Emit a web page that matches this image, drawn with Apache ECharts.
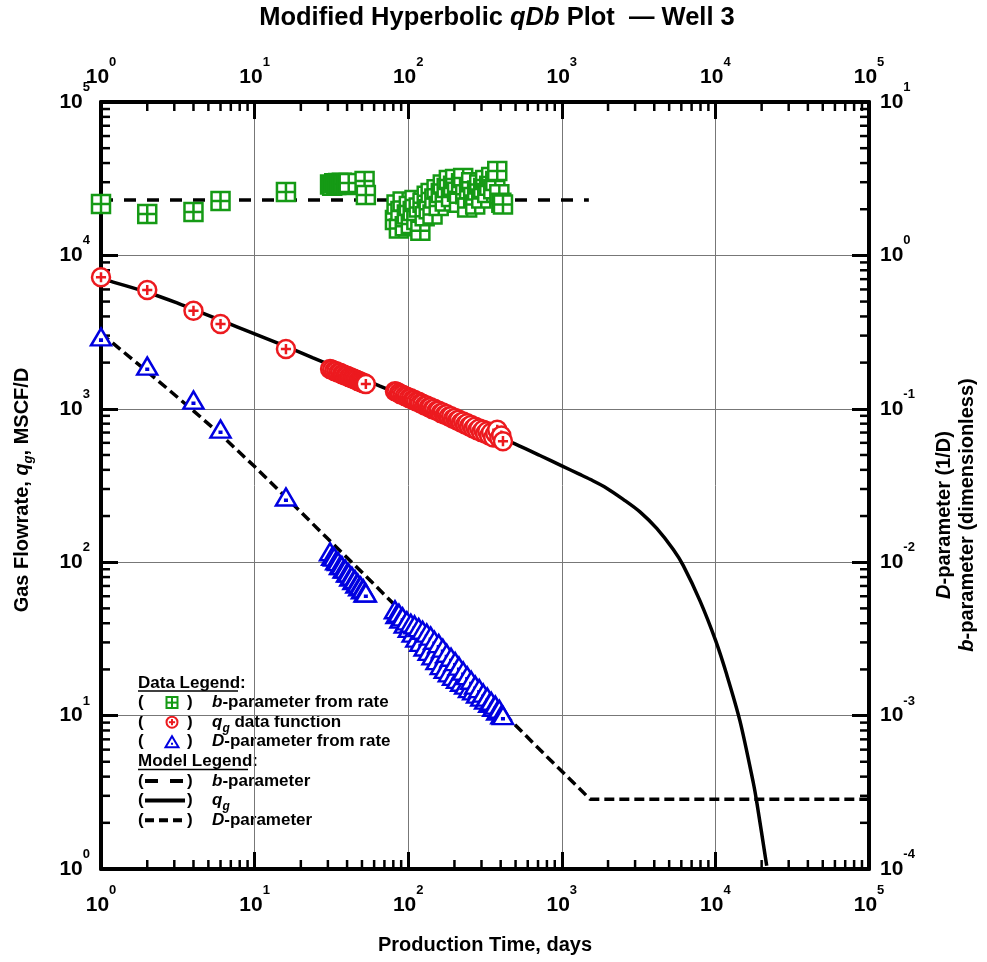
<!DOCTYPE html>
<html><head><meta charset="utf-8">
<script src="https://cdn.jsdelivr.net/npm/echarts@6/dist/echarts.min.js"></script>
<style>html,body{margin:0;padding:0;background:#fff}#c{width:987px;height:962px}</style>
</head><body><div id="c"></div>
<script>
const FONT = '"Liberation Sans", Arial, Helvetica, sans-serif';

// ---- field data (production time, days) ----
const tData = [1,2,4,6,16,
  31,32,33,34,35,36,37,38,39,40,41,42,43,44,45,46,47,48,49,50,51,52,53,
  82,84,87,89,92,95,98,101,104,107,110,113,117,120,124,128,132,136,140,144,
  148,153,158,163,168,173,178,184,190,196,202,208,214,221,228,235,242,249,257,265,
  273,281,290,299,308,317,327,337,347,358,369,380,392,404,414];
// gas rate data, MSCF/D
const qData = [7200,5950,4350,3570,2450,
  1820,1800,1765,1755,1720,1715,1680,1675,1645,1640,1610,1605,1580,1575,1550,1545,1520,1515,1495,1490,1470,1465,1450,
  1300,1290,1270,1245,1235,1210,1200,1175,1170,1145,1140,1115,1110,1085,1080,1050,1050,1025,1025,995,
  1000,970,970,940,945,915,920,890,895,860,870,840,850,815,825,790,805,770,785,745,
  765,725,745,705,730,690,715,670,700,650,690,730,640,670,615];
// D-parameter from rate, 1/D
const dData = [0.294,0.190,0.114,0.0738,0.0266,
  0.0117,0.0109,0.0108,0.0102,0.0101,0.0095,0.0095,0.0090,0.0090,0.0085,0.0085,0.0080,0.0081,0.0076,0.0077,0.0072,0.0073,0.0069,0.0070,0.0066,0.0067,0.0063,0.0063,
  0.00490,0.00455,0.00465,0.00425,0.00440,0.00395,0.00415,0.00370,0.00400,0.00345,
  0.00390,0.00320,0.00375,0.00300,0.00360,0.00280,0.00345,0.00262,0.00330,0.00245,
  0.00310,0.00228,0.00295,0.00212,0.00275,0.00200,0.00255,0.00190,0.00240,0.00180,
  0.00225,0.00172,0.00210,0.00165,0.00195,0.00158,0.00182,0.00150,0.00170,0.00145,
  0.00158,0.00138,0.00150,0.00132,0.00140,0.00126,0.00132,0.00120,0.00124,0.00113,
  0.00117,0.00107,0.00110,0.00101,0.00100];
// b-parameter from rate, dimensionless
const bData = [2.16,1.86,1.92,2.26,2.59,
  2.90,2.85,2.95,2.88,2.97,2.90,2.98,2.92,2.95,2.88,2.96,null,null,null,null,null,null,null,null,null,null,3.05,2.48,
  1.70,2.15,1.50,1.95,2.25,1.55,1.85,2.10,1.60,1.95,
  2.30,1.70,2.05,1.45,2.20,1.80,2.45,2.00,2.55,1.85,
  2.35,2.70,2.10,2.55,2.90,2.25,2.75,3.10,2.40,2.85,
  3.15,2.60,2.20,2.95,3.20,2.50,2.05,2.70,3.00,2.40,
  2.15,2.65,2.90,2.35,2.75,3.10,2.55,2.85,3.25,2.70,
  3.05,3.55,2.50,2.20,2.15];

// ---- model curves ----
const qModelT = [1,1.2,2,3.27,4,6,10,16.3,24,40,65.5,100,178,300,500,721,1000,1300,1527,1960,2512,3228,4150,5320,6180,7940,10040,11850,14460,17650,18570,21580];
const qModelQ = [7000,6700,5750,4820,4450,3780,3080,2530,2150,1735,1407,1180,928,738,588,496,425,375,347,304,257,213,166,121,95,56,30.8,18.5,9.2,3.65,2.75,1.05];
const dModelT = [1,2,4,6,10,16.3,30,50,100,200,400,800,1530,100000];
const dModelD = [0.31,0.175,0.097,0.068,0.042,0.026,0.0142,0.0086,0.0043,0.00216,0.00108,0.00054,0.000285,0.000285];
const bModelT = [1,1500];
const bModelB = [2.3,2.3];

// ---- axes ----
const xExps = [0,1,2,3,4,5];
const leftExps = [0,1,2,3,4,5];
const rightExps = [-4,-3,-2,-1,0,1];
const minorMult = [2,3,4,5,6,7,8,9];
const minorDecades = [1,10,100,1000,10000];
const minorVals = [];
for (const d of minorDecades) for (const m of minorMult) minorVals.push(m * d);

const pairs = (xs, ys) => xs.map((x, i) => [x, ys[i]]).filter(p => p[1] != null);

const labelRich = {
  b: {fontSize: 21, fontWeight: 'bold', fontFamily: FONT, color: '#000', lineHeight: 42},
  s: {fontSize: 13, fontWeight: 'bold', fontFamily: FONT, color: '#000', lineHeight: 12, verticalAlign: 'top'}
};
const supFmt = v => '{b|10}{s|' + Math.round(Math.log10(v)) + '}';

function majorAxis(pos, min, max, split, margin) {
  return {
    type: 'log', logBase: 10, min, max, position: pos,
    axisLine: {show: true, onZero: false, lineStyle: {color: '#000', width: 4}},
    axisTick: {show: true, inside: true, length: 17, lineStyle: {color: '#000', width: 3}},
    minorTick: {show: false},
    splitLine: {show: split, lineStyle: {color: '#777', width: 1}},
    axisLabel: {show: true, margin, formatter: supFmt, rich: labelRich, color: '#000'},
    axisPointer: {show: false}
  };
}
const MINOR_LEN = 9;
// minor tick marks placed through the axes' own log scales
function minorTickSeries(dir) {
  return {
    type: 'custom', xAxisIndex: 0, yAxisIndex: 0, clip: false, silent: true, z: 1,
    data: minorVals.map(v => dir === 'x' ? [v, 1] : [1, v]),
    renderItem: function (params, api) {
      const v = dir === 'x' ? api.value(0) : api.value(1);
      const st = {stroke: '#000', lineWidth: 2.5};
      if (dir === 'x') {
        const x = api.coord([v, 1])[0];
        const yb = api.coord([v, 1])[1], yt = api.coord([v, 1e5])[1];
        return {type: 'group', children: [
          {type: 'line', shape: {x1: x, y1: yb, x2: x, y2: yb - MINOR_LEN}, style: st},
          {type: 'line', shape: {x1: x, y1: yt, x2: x, y2: yt + MINOR_LEN}, style: st}]};
      }
      const y = api.coord([1, v])[1];
      const xl = api.coord([1, v])[0], xr = api.coord([1e5, v])[0];
      return {type: 'group', children: [
        {type: 'line', shape: {x1: xl, y1: y, x2: xl + MINOR_LEN, y2: y}, style: st},
        {type: 'line', shape: {x1: xr, y1: y, x2: xr - MINOR_LEN, y2: y}, style: st}]};
    }
  };
}

const SQ = 'path://M0,0L16,0L16,16L0,16Z M8,0L8,16 M0,8L16,8';
const CI = 'path://M0,8A8,8,0,1,1,16,8A8,8,0,1,1,0,8Z M8,3.5L8,12.5 M3.5,8L12.5,8';
const TR = 'path://M9,0L18,16L0,16Z M8.4,10.4L9.6,10.4L9.6,11.6L8.4,11.6Z';
const GREEN = '#159a15', RED = '#ec1a1f', BLUE = '#0000e0';

// ---- text helpers ----
const tx = (size, extra) => Object.assign({fontSize: size, fontWeight: 'bold', fontFamily: FONT, fill: '#000'}, extra || {});
const legendRich = {
  n: tx(17, {lineHeight: 24}),
  i: tx(17, {lineHeight: 24, fontStyle: 'italic'}),
  sub: tx(12, {lineHeight: 12, fontStyle: 'italic', verticalAlign: 'bottom'})
};
const L0 = 683, LS = 19.6;
const ry = i => L0 + LS * i;
const g = [];
function txt(x, y, text, rich, extra) {
  g.push(Object.assign({type: 'text', x, y, silent: true,
    style: {text, rich, align: 'left', verticalAlign: 'middle', font: 'bold 17px ' + FONT, fill: '#000'}}, extra || {}));
}
function seg(x1, y1, x2, y2, color, w, dash) {
  g.push({type: 'line', silent: true, shape: {x1, y1, x2, y2}, style: {stroke: color, lineWidth: w, lineDash: dash || null}});
}
function symSquare(cx, cy, s, color) {
  g.push({type: 'rect', silent: true, shape: {x: cx - s / 2, y: cy - s / 2, width: s, height: s}, style: {fill: '#fff', stroke: color, lineWidth: 2}});
  seg(cx, cy - s / 2, cx, cy + s / 2, color, 2);
  seg(cx - s / 2, cy, cx + s / 2, cy, color, 2);
}
function symCircle(cx, cy, s, color) {
  g.push({type: 'circle', silent: true, shape: {cx, cy, r: s / 2}, style: {fill: '#fff', stroke: color, lineWidth: 2}});
  seg(cx, cy - s * 0.28, cx, cy + s * 0.28, color, 2);
  seg(cx - s * 0.28, cy, cx + s * 0.28, cy, color, 2);
}
function symTri(cx, cy, w, h, color) {
  g.push({type: 'polygon', silent: true, shape: {points: [[cx, cy - h / 2], [cx + w / 2, cy + h / 2], [cx - w / 2, cy + h / 2]]}, style: {fill: '#fff', stroke: color, lineWidth: 2}});
  g.push({type: 'rect', silent: true, shape: {x: cx - 1, y: cy + 1, width: 2, height: 2}, style: {fill: color}});
}
txt(138, ry(0), 'Data Legend:', legendRich); seg(138, ry(0) + 8, 238, ry(0) + 8, '#000', 1.5);
const dataRows = [
  ['{i|b}{n|-parameter from rate}', y => symSquare(172, y, 11, GREEN)],
  ['{i|q}{sub|g}{n| data function}', y => symCircle(172, y, 11, RED)],
  ['{i|D}{n|-parameter from rate}', y => symTri(172, y, 13, 11, BLUE)]
];
dataRows.forEach((r, k) => {
  const y = ry(k + 1);
  txt(138, y, '(', legendRich); txt(187, y, ')', legendRich);
  r[1](y);
  txt(212, y, r[0], legendRich);
});
txt(138, ry(4), 'Model Legend:', legendRich); seg(138, ry(4) + 8, 248, ry(4) + 8, '#000', 1.5);
const modelRows = [
  ['{i|b}{n|-parameter}', [13, 12]],
  ['{i|q}{sub|g}', null],
  ['{i|D}{n|-parameter}', [9, 5]]
];
modelRows.forEach((r, k) => {
  const y = ry(k + 5);
  txt(138, y, '(', legendRich); txt(187, y, ')', legendRich);
  seg(145, y, 185, y, '#000', 4, r[1]);
  txt(212, y, r[0], legendRich);
});
// title & axis names
g.push({type: 'text', x: 497, y: 18, silent: true, style: {
  text: '{n|Modified Hyperbolic }{i|qDb}{n| Plot  \u2014 Well 3}',
  rich: {n: tx(25.5), i: tx(25.5, {fontStyle: 'italic'})}, align: 'center', verticalAlign: 'middle'}});
g.push({type: 'text', x: 485, y: 945, silent: true, style: {
  text: 'Production Time, days', font: 'bold 20px ' + FONT, fill: '#000', align: 'center', verticalAlign: 'middle'}});
g.push({type: 'text', x: 22, y: 490, rotation: Math.PI / 2, silent: true, style: {
  text: '{n|Gas Flowrate, }{i|q}{sub|g}{n|, MSCF/D}',
  rich: {n: tx(20, {lineHeight: 26}), i: tx(20, {lineHeight: 26, fontStyle: 'italic'}), sub: tx(13, {lineHeight: 13, fontStyle: 'italic', verticalAlign: 'bottom'})},
  align: 'center', verticalAlign: 'middle'}});
g.push({type: 'text', x: 956, y: 515, rotation: Math.PI / 2, silent: true, style: {
  text: '{i|D}{n|-parameter (1/D)}\n{i|b}{n|-parameter (dimensionless)}',
  rich: {n: tx(20, {lineHeight: 23}), i: tx(20, {lineHeight: 23, fontStyle: 'italic'})},
  align: 'center', verticalAlign: 'middle'}});

const chart = echarts.init(document.getElementById('c'), null, {renderer: 'canvas'});
chart.setOption({
  animation: false,
  backgroundColor: '#fff',
  grid: {left: 101, right: 118, top: 102, bottom: 93, containLabel: false},
  xAxis: [majorAxis('bottom', 1, 1e5, true, 15), majorAxis('top', 1, 1e5, false, 4)],
  yAxis: [majorAxis('left', 1, 1e5, true, 11), majorAxis('right', 1e-4, 10, false, 11)],
  graphic: g,
  series: [
    minorTickSeries('x'),
    minorTickSeries('y'),
    {type: 'line', xAxisIndex: 0, yAxisIndex: 1, data: pairs(bModelT, bModelB), symbol: 'none', z: 2,
      lineStyle: {color: '#000', width: 3.5, type: [12, 11]}},
    {type: 'line', xAxisIndex: 0, yAxisIndex: 0, data: pairs(qModelT, qModelQ), symbol: 'none', z: 2,
      smooth: 0.3, lineStyle: {color: '#000', width: 3.5}},
    {type: 'line', xAxisIndex: 0, yAxisIndex: 1, data: pairs(dModelT, dModelD), symbol: 'none', z: 2,
      lineStyle: {color: '#000', width: 3.5, type: [10, 5]}},
    {type: 'scatter', xAxisIndex: 0, yAxisIndex: 1, data: pairs(tData, bData), symbol: SQ, symbolSize: 18, clip: false, z: 3,
      itemStyle: {color: '#fff', borderColor: GREEN, borderWidth: 2.5, opacity: 1}},
    {type: 'scatter', xAxisIndex: 0, yAxisIndex: 0, data: pairs(tData, qData), symbol: CI, symbolSize: 18, clip: false, z: 3,
      itemStyle: {color: '#fff', borderColor: RED, borderWidth: 2.5, opacity: 1}},
    {type: 'scatter', xAxisIndex: 0, yAxisIndex: 1, data: pairs(tData, dData), symbol: TR, symbolSize: [20, 17], clip: false, z: 3,
      itemStyle: {color: '#fff', borderColor: BLUE, borderWidth: 2.5, opacity: 1}}
  ]
});
</script></body></html>
